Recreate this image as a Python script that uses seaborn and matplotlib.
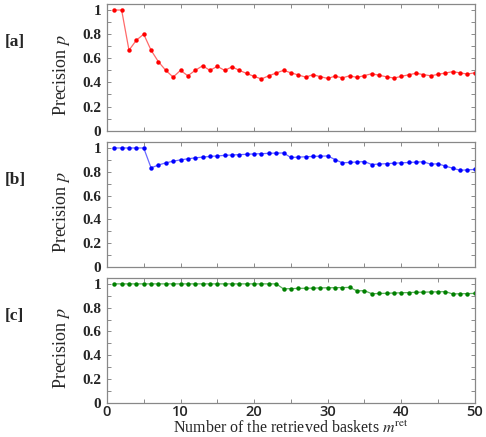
import numpy as np
import pandas as pd
import matplotlib
matplotlib.use('Agg')
import matplotlib.pyplot as plt
from matplotlib.ticker import MultipleLocator, FormatStrFormatter
import seaborn as sns

# number of retrieved baskets
m_ret = list(range(1, 51))

prec_a = [1.0, 1.0, 0.667, 0.75, 0.80, 0.667, 0.571, 0.50, 0.444, 0.50,
          0.455, 0.50, 0.538, 0.50, 0.533, 0.50, 0.529, 0.50, 0.474, 0.45,
          0.429, 0.455, 0.478, 0.50, 0.48, 0.462, 0.444, 0.464, 0.448, 0.433,
          0.452, 0.438, 0.455, 0.441, 0.457, 0.472, 0.459, 0.447, 0.436, 0.45,
          0.463, 0.476, 0.465, 0.455, 0.467, 0.478, 0.489, 0.479, 0.469, 0.48]

prec_b = [1.0, 1.0, 1.0, 1.0, 1.0, 0.833, 0.857, 0.875, 0.889, 0.90,
          0.909, 0.917, 0.923, 0.929, 0.933, 0.938, 0.941, 0.944, 0.947, 0.95,
          0.952, 0.955, 0.957, 0.958, 0.92, 0.923, 0.926, 0.929, 0.931, 0.933,
          0.903, 0.875, 0.879, 0.882, 0.886, 0.861, 0.865, 0.868, 0.872, 0.875,
          0.878, 0.881, 0.884, 0.864, 0.867, 0.848, 0.830, 0.8125, 0.816, 0.82]

prec_c = [1.0] * 23 + [0.958, 0.96, 0.962, 0.963, 0.964, 0.966, 0.967,
                      0.968, 0.969, 0.970, 0.941, 0.943, 0.917, 0.919, 0.921, 0.923, 0.925,
                      0.927, 0.929, 0.930, 0.932, 0.933, 0.935, 0.915, 0.917, 0.918, 0.92]

panels = ["[a]", "[b]", "[c]"]
colors = ["#ff0000", "#0000ff", "#008000"]
line_colors = ["#ff6a6a", "#6a6aff", "#5cad5c"]

sns.set_style("white")
plt.rcParams['font.family'] = ['Liberation Serif', 'DejaVu Serif']
plt.rcParams['mathtext.fontset'] = 'stix'

fig = plt.figure(figsize=(4.86, 4.37), dpi=100)
boxes = [(0.701, 0.9908), (0.389, 0.675), (0.0785, 0.364)]
L, R = 0.220, 0.977

for i, (vals, lab) in enumerate(zip([prec_a, prec_b, prec_c], panels)):
    bot, top = boxes[i]
    ax = fig.add_axes([L, bot, R - L, top - bot])
    df = pd.DataFrame({"m": m_ret, "p": vals})
    sns.lineplot(data=df, x="m", y="p", ax=ax, color=line_colors[i], lw=0.9,
                 marker="o", markersize=3.2, markerfacecolor=colors[i],
                 markeredgecolor=colors[i], markeredgewidth=0)
    ax.set_xlim(0, 50)
    ax.set_ylim(0, 1.05)
    ax.xaxis.set_major_locator(MultipleLocator(10))
    ax.xaxis.set_minor_locator(MultipleLocator(5))
    ax.yaxis.set_major_locator(MultipleLocator(0.2))
    ax.yaxis.set_minor_locator(MultipleLocator(0.1))
    ax.yaxis.set_major_formatter(FormatStrFormatter('%g'))
    ax.tick_params(which='both', direction='in', top=True, right=True,
                   bottom=True, left=True, length=3, width=0.6, color='#777777')
    ax.tick_params(axis='y', labelsize=11, pad=4)
    for t in ax.get_yticklabels():
        t.set_fontweight('bold')
    for s in ax.spines.values():
        s.set_color('#888888')
        s.set_linewidth(0.9)
    ax.set_ylabel(r"Precision $\mathit{p}$", fontsize=13)
    ax.yaxis.set_label_coords(-0.095, 0.44)
    if i < 2:
        ax.set_xticklabels([])
        ax.set_xlabel("")
    else:
        ax.tick_params(axis='x', labelsize=10.5, pad=2)
        for t in ax.get_xticklabels():
            t.set_family(['Open Sans', 'DejaVu Sans'])
            t.set_fontweight('semibold')
        ax.set_xlabel(r"Number of the retrieved baskets $\mathit{m}^{\mathrm{ret}}$",
                      fontsize=11.5, va='top')
        ax.xaxis.set_label_coords(0.5, -0.145)
    fig.text(0.01, top - 0.087, lab, fontsize=12.5, fontweight='bold',
             ha='left', va='center')

fig.savefig("out.png", dpi=100)
